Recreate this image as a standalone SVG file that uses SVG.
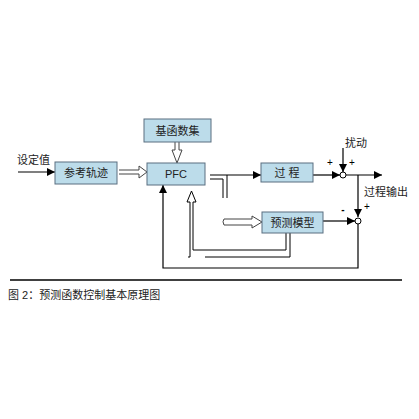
<svg xmlns="http://www.w3.org/2000/svg" width="419" height="419" viewBox="0 0 419 419">
<defs>
<marker id="ah" viewBox="0 0 10 10" refX="10" refY="5" markerWidth="9" markerHeight="8" markerUnits="userSpaceOnUse" orient="auto">
<path d="M0,0 L10,5 L0,10 z" fill="#000"/>
</marker>
<style>
.box{fill:#bcdcea;stroke:#5a6f80;stroke-width:1}
.t{font-family:"Liberation Sans","Noto Sans CJK SC",sans-serif;font-size:11px;fill:#222}
.c{text-anchor:middle;dominant-baseline:central}
.pm{font-family:"Liberation Sans",sans-serif;font-size:10px;fill:#000;text-anchor:middle;dominant-baseline:central}
.ln{fill:none;stroke:#000;stroke-width:1.2}
.hol{fill:#fff;stroke:#444;stroke-width:1}
.dl{fill:none;stroke:#000;stroke-width:1}
</style>
</defs>
<rect width="419" height="419" fill="#fff"/>

<g id="connectors">
<line class="ln" x1="18" y1="172" x2="55" y2="172" marker-end="url(#ah)"/>
<polyline class="hol" points="119,170 139,170 139,166 147,172 139,178 139,174 119,174"/>
<polyline class="hol" points="175,142 175,150 172,150 177,163 182,150 179,150 179,142"/>
<line class="ln" x1="210" y1="175" x2="261" y2="175" marker-end="url(#ah)"/>
<polyline class="dl" points="210,179 223,179 223,198"/>
<line class="dl" x1="227" y1="175" x2="227" y2="198"/>
<path class="hol" d="M224,219 Q222,221.5 224,225 L252,225 L252,228 L262,222 L252,216 L252,219 Z"/>
<polyline class="dl" points="286,233 286,250 193,250 193,202 196,202 191.5,191 187,202 190,202 190,257 188,257"/>
<polyline class="dl" points="290,233 290,257 205,257"/>
<line class="ln" x1="313" y1="175" x2="340" y2="175" marker-end="url(#ah)"/>
<line class="ln" x1="343" y1="148" x2="343" y2="172" marker-end="url(#ah)"/>
<line class="ln" x1="346" y1="175" x2="382" y2="175" marker-end="url(#ah)"/>
<line class="ln" x1="358" y1="175" x2="358" y2="217" marker-end="url(#ah)"/>
<line class="ln" x1="323" y1="221" x2="355" y2="221" marker-end="url(#ah)"/>
<polyline class="ln" points="358,224 358,268 163,268 163,185" marker-end="url(#ah)"/>
<line x1="10" y1="280" x2="402" y2="280" stroke="#000" stroke-width="1.5"/>
</g>

<g id="n_setpoint"><text class="t" x="17" y="164">设定值</text></g>
<g id="n_ref"><rect class="box" x="55" y="162" width="62" height="22"/><text class="t c" x="86" y="173">参考轨迹</text></g>
<g id="n_basis"><rect class="box" x="144" y="119" width="67" height="23"/><text class="t c" x="177.5" y="130.5">基函数集</text></g>
<g id="n_pfc"><rect class="box" x="147" y="163" width="58" height="22"/><text class="t c" x="176" y="174">PFC</text></g>
<g id="n_process"><rect class="box" x="261" y="163" width="52" height="19"/><text class="t c" x="287" y="172.5">过 程</text></g>
<g id="n_model"><rect class="box" x="262" y="212" width="61" height="21"/><text class="t c" x="292.5" y="222.5">预测模型</text></g>
<g id="n_sum1"><circle cx="343" cy="175" r="3" fill="#fff" stroke="#000" stroke-width="1"/>
<text class="pm" x="330" y="162">+</text><text class="pm" x="352" y="162">+</text></g>
<g id="n_dist"><text class="t" x="345" y="147">扰动</text></g>
<g id="n_sum2"><circle cx="358" cy="221" r="3" fill="#fff" stroke="#000" stroke-width="1"/>
<text class="pm" x="343" y="209" font-weight="bold">-</text><text class="pm" x="367" y="206">+</text></g>
<g id="n_out"><text class="t" x="364" y="196">过程输出</text></g>
<g id="caption"><text class="t" x="8" y="299" fill="#444" font-size="12">图 2：预测函数控制基本原理图</text></g>
</svg>
